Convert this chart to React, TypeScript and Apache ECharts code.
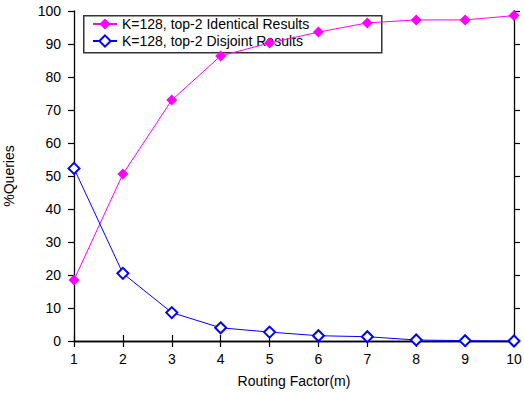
import React, { useEffect, useRef } from "react";
import * as echarts from "echarts";

const xValues = [1, 2, 3, 4, 5, 6, 7, 8, 9, 10];
const identical = [18.5, 50.6, 73.0, 86.4, 90.3, 93.6, 96.4, 97.3, 97.3, 98.6];
const disjoint = [52.3, 20.5, 8.6, 4.0, 2.7, 1.6, 1.3, 0.3, 0.1, 0.0];
const seriesNames = ["K=128, top-2 Identical Results", "K=128, top-2 Disjoint Results"];

const FONT = "'Liberation Sans', Arial, sans-serif";

export default function App() {
  const ref = useRef<HTMLDivElement>(null);
  useEffect(() => {
    if (!ref.current) return;
    const chart = echarts.init(ref.current, undefined, { renderer: "svg" });
    const axisLine = { show: true, lineStyle: { color: "#000", width: 1.3 } };
    const axisTick = { show: true, inside: false, length: 6, lineStyle: { color: "#000", width: 1.2 } };
    chart.setOption({
      animation: false,
      textStyle: { fontFamily: FONT },
      grid: { left: 74, right: 10, top: 11, bottom: 53, containLabel: false, outerBoundsMode: "none" },
      graphic: {
        elements: [
          {
            type: "rect",
            left: 83,
            top: 15,
            z: 0,
            silent: true,
            shape: { x: 0, y: 0, width: 298, height: 37 },
            style: { fill: "rgba(0,0,0,0)", stroke: "#333", lineWidth: 1.5 },
          },
        ],
      },
      legend: {
        left: 84,
        top: 16,
        orient: "vertical",
        z: 1,
        itemWidth: 24,
        itemHeight: 14,
        itemGap: 3,
        padding: [1, 8, 1, 8],
        textStyle: { fontFamily: FONT, fontSize: 14, color: "#000" },
        data: seriesNames,
      },
      xAxis: [
        {
          type: "value",
          min: 1,
          max: 10,
          interval: 1,
          position: "bottom",
          axisLine,
          axisTick,
          splitLine: { show: false },
          axisLabel: { color: "#000", fontSize: 14, margin: 11, fontFamily: FONT },
          name: "Routing Factor(m)",
          nameLocation: "middle",
          nameGap: 33,
          nameTextStyle: { color: "#000", fontSize: 14, fontFamily: FONT },
        },
        {
          type: "value",
          min: 1,
          max: 10,
          interval: 1,
          position: "top",
          axisLine,
          axisTick,
          splitLine: { show: false },
          axisLabel: { show: false },
        },
      ],
      yAxis: [
        {
          type: "value",
          min: 0,
          max: 100,
          interval: 10,
          position: "left",
          axisLine,
          axisTick,
          splitLine: { show: false },
          axisLabel: { color: "#000", fontSize: 14, margin: 13, fontFamily: FONT },
          name: "%Queries",
          nameLocation: "middle",
          nameGap: 58,
          nameTextStyle: { color: "#000", fontSize: 14, fontFamily: FONT },
        },
        {
          type: "value",
          min: 0,
          max: 100,
          interval: 10,
          position: "right",
          axisLine,
          axisTick,
          splitLine: { show: false },
          axisLabel: { show: false },
        },
      ],
      series: [
        {
          name: seriesNames[0],
          type: "line",
          z: 3,
          data: xValues.map((x, i) => [x, identical[i]]),
          symbol: "diamond",
          symbolSize: 11,
          lineStyle: { color: "#ff00ff", width: 1 },
          itemStyle: { color: "#ff00ff" },
        },
        {
          name: seriesNames[1],
          type: "line",
          z: 3,
          data: xValues.map((x, i) => [x, disjoint[i]]),
          symbol: "emptyDiamond",
          symbolSize: 11,
          lineStyle: { color: "#0000ff", width: 1 },
          itemStyle: { color: "#0000ff", borderWidth: 1 },
        },
      ],
    });
    return () => chart.dispose();
  }, []);
  return <div ref={ref} style={{ width: 524, height: 394, position: "absolute", left: 0, top: 0 }} />;
}
